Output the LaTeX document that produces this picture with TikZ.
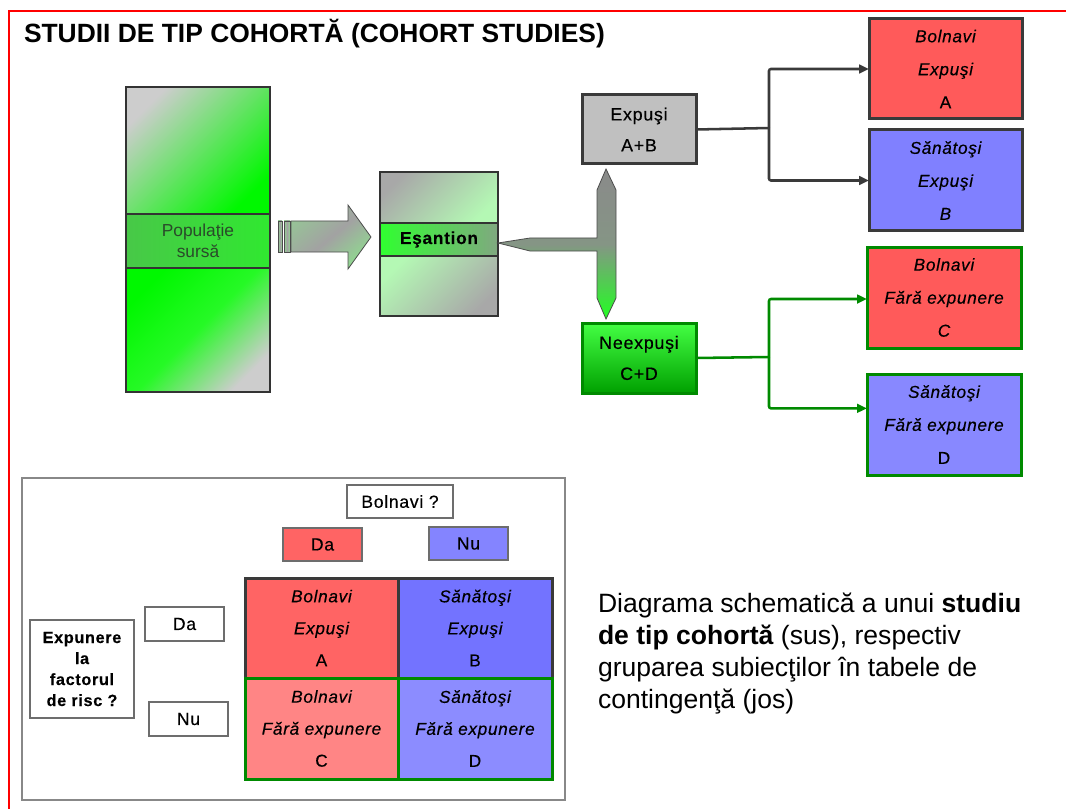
\documentclass[tikz,border=0pt]{standalone}
\usepackage{fontspec}
\setmainfont{Liberation Sans}
\newfontfamily\lsp[LetterSpace=4,FakeBold=0.3]{Liberation Sans}
\usetikzlibrary{arrows.meta,calc}
\definecolor{bdark}{HTML}{3A3A3A}
\definecolor{gline}{HTML}{008A00}
\definecolor{redA}{HTML}{FF5A5A}
\definecolor{blueB}{HTML}{8080FF}
\definecolor{blueD}{HTML}{8888FF}
\definecolor{greyE}{HTML}{C0C0C0}
\definecolor{gr}{HTML}{00F800}
\definecolor{lgr}{HTML}{B4F8B4}
\definecolor{gy}{HTML}{CDCDCD}
\definecolor{gy2}{HTML}{A8A8A8}
\definecolor{tA}{HTML}{FF6464}
\definecolor{tB}{HTML}{7373FF}
\definecolor{tC}{HTML}{FF8585}
\definecolor{tD}{HTML}{8C8CFF}
\definecolor{hN}{HTML}{8484FF}
\definecolor{pgray}{HTML}{888888}
\definecolor{popt}{HTML}{2A4A2A}
\definecolor{bandL}{HTML}{48C848}
\definecolor{bandR}{HTML}{30E830}
\definecolor{esL}{HTML}{30FF30}
\definecolor{esR}{HTML}{80A880}
\definecolor{arrG}{HTML}{90D890}
\definecolor{arrM}{HTML}{A2A2A2}
\definecolor{tTop}{HTML}{8A8A8A}
\definecolor{tMid}{HTML}{859585}
\definecolor{tBot}{HTML}{22FF22}
\definecolor{nTop}{HTML}{44FF44}
\definecolor{nBot}{HTML}{00A000}
\begin{document}
\begin{tikzpicture}[x=0.75pt,y=-0.75pt,
  every node/.style={inner sep=0pt,outer sep=0pt},
  tip/.style={-{Triangle[length=7.5pt,width=6.5pt]}},
  darkconn/.style={draw=bdark,line width=1.9pt,rounded corners=1.5pt},
  greenconn/.style={draw=gline,line width=1.9pt,rounded corners=1.5pt},
  midbox/.style={line width=2.25pt,minimum width=85.5pt,align=center,font=\lsp\fontsize{13.4}{23.25}\selectfont},
  rbox/.style={line width=2.25pt,align=center,font=\lsp\itshape\fontsize{12.9}{24.75}\selectfont},
  cell/.style={line width=2.25pt,minimum width=114.75pt,align=center,font=\lsp\itshape\fontsize{12.9}{24}\selectfont},
  smallbox/.style={draw=pgray!80!black,line width=1.1pt,font=\lsp\fontsize{13.2}{15}\selectfont,minimum width=59.25pt,minimum height=25pt},
  outline/.style={draw=black!80,line width=0.8pt},
  blockarrow/.style={draw=black!70,line width=0.6pt}
]
\useasboundingbox (0,0) rectangle (1066,809);
% red frame
\draw[red,line width=1.5pt] (9,809) -- (9,11) -- (1066,11);
\node[anchor=west,font=\bfseries\fontsize{19.8}{24}\selectfont] (title) at (24,34) {STUDII DE TIP COHORTĂ (COHORT STUDIES)};

% source population
\shade[top color=gy,bottom color=gr,shading angle=45] (126,87) rectangle (270,214);
\shade[top color=gr,bottom color=gy,middle color=gr!85!white,shading angle=45] (126,268) rectangle (270,392);
\node[outline,left color=bandL,right color=bandR,minimum width=108pt,minimum height=40.5pt,align=center,text=popt,font=\fontsize{13}{15.75}\selectfont] (popband) at (198,241) {Populaţie\\sursă};
\node[outline,minimum width=108pt,minimum height=228.75pt] (pop) at (198,239.5) {};

% block arrow
\shadedraw[blockarrow,left color=arrG,right color=arrG,middle color=arrM] (278,221) rectangle (282,252);
\shadedraw[blockarrow,left color=arrG,right color=arrG,middle color=arrM] (284,221) rectangle (290,252);
\shadedraw[blockarrow,top color=arrG!60!arrM,bottom color=arrG,middle color=arrM,shading angle=40] (291,221) -- (348,221) -- (348,205) -- (371,237) -- (348,269) -- (348,252) -- (291,252) -- cycle;

% sample
\shade[top color=gy2,bottom color=lgr,shading angle=45] (380,172) rectangle (498,223);
\shade[top color=lgr,bottom color=gy2,shading angle=45] (380,256) rectangle (498,316);
\node[outline,left color=esL,right color=esR,minimum width=88.5pt,minimum height=24.75pt,font=\lsp\bfseries\fontsize{13}{15}\selectfont] (esband) at (439,239.5) {Eşantion};
\node[outline,minimum width=88.5pt,minimum height=108pt] (esant) at (439,244) {};

% T arrow
\shadedraw[blockarrow,top color=tTop,bottom color=tBot,middle color=tMid] (498,243) -- (530,238) -- (597,238) -- (597,190) -- (606,169) -- (616,190) -- (616,298) -- (606,319) -- (597,298) -- (597,251) -- (530,251) -- cycle;

% middle boxes
\node[midbox,draw=bdark,fill=greyE,minimum height=51.75pt] (exp) at (639,129.5) {Expuşi\\A+B};
\node[midbox,draw=gline,top color=nTop,bottom color=nBot,minimum height=52.5pt] (neexp) at (639,358) {Neexpuşi\\C+D};

% right boxes
\node[rbox,draw=bdark,fill=redA,minimum width=114.75pt,minimum height=75pt] (A) at (945.5,69) {Bolnavi\\Expuşi\\{\upshape A}};
\node[rbox,draw=bdark,fill=blueB,minimum width=114.75pt,minimum height=75.75pt] (B) at (945.5,180.5) {Sănătoşi\\Expuşi\\B};
\node[rbox,draw=gline,fill=redA,minimum width=115.5pt,minimum height=75.75pt] (C) at (944,297.5) {Bolnavi\\Fără expunere\\C};
\node[rbox,draw=gline,fill=blueD,minimum width=115.5pt,minimum height=75.75pt] (D) at (944,424.5) {Sănătoşi\\Fără expunere\\{\upshape D}};

% connectors
\coordinate (j1) at (769,128);
\draw[darkconn] (exp.east) -- (j1);
\draw[darkconn,tip] (j1) |- (A.west);
\draw[darkconn,tip] (j1) |- (B.west);
\coordinate (j2) at (769,357);
\draw[greenconn] (neexp.east) -- (j2);
\draw[greenconn,tip] (j2) |- ($(C.north west)!0.515!(C.south west)$);
\draw[greenconn,tip] (j2) |- ($(D.north west)!0.34!(D.south west)$);

% bottom panel
\draw[pgray,line width=1.1pt] (22,478) rectangle (565,800);
\node[smallbox,fill=white,minimum width=79.5pt,minimum height=24.75pt] (bq) at (400,501.5) {Bolnavi ?};
\node[smallbox,fill=tA] (hDa) at (322.5,544.5) {Da};
\node[smallbox,fill=hN] (hNu) at (468.5,543.5) {Nu};
\node[smallbox,fill=white,minimum height=25.5pt] (rDa) at (184.5,624) {Da};
\node[smallbox,fill=white,minimum height=25.5pt] (rNu) at (188.5,719) {Nu};
\node[smallbox,fill=white,minimum width=78pt,minimum height=73.5pt,align=center,font=\lsp\bfseries\fontsize{12.2}{15.75}\selectfont] (expq) at (82,669) {Expunere\\la\\factorul\\de risc ?};

\node[cell,draw=bdark,fill=tA,minimum height=75pt] (cA) at (321.5,628) {Bolnavi\\Expuşi\\{\upshape A}};
\node[cell,draw=bdark,fill=tB,minimum width=115.5pt,minimum height=75pt] (cB) at (475,628) {Sănătoşi\\Expuşi\\{\upshape B}};
\node[cell,draw=gline,fill=tC,minimum height=75.75pt] (cC) at (321.5,728.5) {Bolnavi\\Fără expunere\\{\upshape C}};
\node[cell,draw=gline,fill=tD,minimum width=115.5pt,minimum height=75.75pt] (cD) at (475,728.5) {Sănătoşi\\Fără expunere\\{\upshape D}};

% description
\node[anchor=north west,align=left,font=\fontsize{19.9}{24}\selectfont] (desc) at (598,593) {Diagrama schematică a unui \textbf{studiu}\\\textbf{de tip cohortă} (sus), respectiv\\gruparea subiecţilor în tabele de\\contingenţă (jos)};
\end{tikzpicture}
\end{document}
